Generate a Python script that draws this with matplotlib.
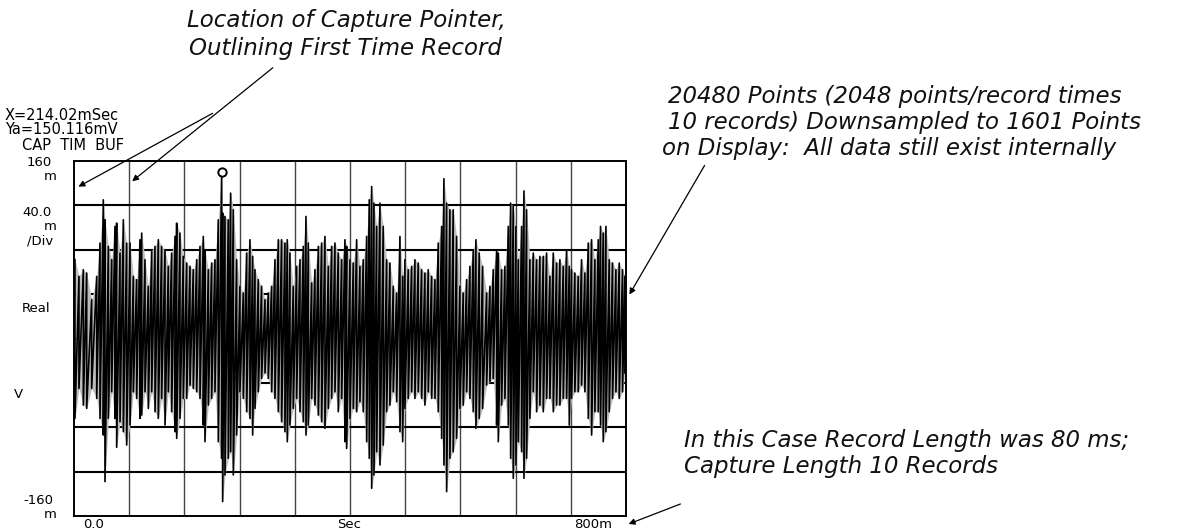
import numpy as np
import matplotlib.pyplot as plt
from matplotlib.patches import FancyArrowPatch

# capture buffer envelope: time (ms), upper / lower extreme (mV)
t_ms = [1.4, 7.2, 13.5, 18.4, 25.6, 32.9, 37.7, 42.5, 44.9, 49.8, 54.6, 59.4, 61.8, 66.7,
        71.5, 76.3, 81.2, 86.0, 90.8, 95.6, 98.1, 102.9, 107.7, 112.6, 117.4, 122.2, 127.0,
        131.9, 136.7, 141.5, 146.4, 148.8, 153.6, 158.4, 163.3, 168.1, 172.9, 177.8, 182.6,
        187.4, 189.8, 194.7, 199.5, 204.3, 209.1, 214.0, 215.4, 218.8, 223.6, 227.0, 230.9,
        235.7, 240.5, 245.4, 250.2, 255.0, 258.9, 262.3, 267.1, 271.9, 276.8, 281.6, 286.4,
        291.2, 296.1, 300.9, 305.7, 309.1, 313.0, 317.8, 322.6, 327.5, 332.3, 336.2, 339.6,
        344.4, 349.2, 354.1, 358.9, 363.7, 368.6, 373.4, 378.2, 383.0, 387.9, 392.7, 395.1,
        400.0, 404.8, 409.6, 414.4, 419.2, 424.1, 427.9, 431.4, 434.7, 438.6, 443.4, 448.2,
        453.1, 457.9, 462.7, 467.6, 472.4, 476.3, 479.6, 484.4, 489.3, 494.1, 498.9, 503.8,
        508.6, 513.4, 518.3, 523.1, 527.9, 532.8, 536.1, 540.0, 544.8, 549.6, 554.5, 559.3,
        564.1, 569.0, 573.8, 578.6, 582.5, 587.3, 592.2, 598.0, 602.8, 607.6, 612.5, 614.9,
        619.7, 624.5, 629.4, 632.8, 636.6, 640.5, 643.9, 648.7, 652.1, 655.9, 660.7, 665.6,
        670.4, 675.2, 680.1, 684.9, 689.7, 694.6, 699.4, 704.2, 709.1, 713.9, 717.8, 721.1,
        725.9, 730.8, 735.6, 740.4, 745.3, 750.1, 754.9, 759.8, 763.1, 767.0, 770.9, 775.7,
        780.5, 785.4, 790.2, 795.0, 798.4]
top_mv = [71, 56, 62, 59, 35, 56, 86, 125, 107, 83, 71, 101, 104, 77,
          107, 86, 86, 56, 53, 89, 95, 71, 47, 80, 83, 89, 83,
          80, 65, 77, 92, 104, 95, 74, 68, 65, 62, 71, 83,
          92, 80, 62, 68, 71, 107, 150.1, 113, 110, 107, 131, 116,
          71, 47, 41, 77, 89, 74, 62, 53, 47, 35, 41, 47,
          71, 89, 89, 86, 89, 77, 47, 65, 71, 83, 110, 86,
          50, 62, 83, 86, 92, 65, 83, 86, 77, 71, 89, 83,
          71, 68, 89, 65, 71, 92, 125, 137, 122, 101, 122, 101,
          71, 68, 47, 41, 92, 56, 71, 62, 65, 71, 68, 62,
          59, 62, 56, 53, 86, 101, 144, 122, 116, 116, 92, 47,
          41, 53, 65, 80, 89, 77, 65, 41, 47, 62, 80, 77,
          62, 65, 101, 122, 119, 101, 71, 101, 133, 116, 71, 77,
          71, 74, 74, 77, 56, 77, 68, 71, 65, 80, 65, 62,
          59, 56, 71, 59, 86, 89, 71, 89, 101, 95, 101, 71,
          68, 62, 68, 62, 56]
bot_mv = [-72, -45, -60, -63, -45, -54, -72, -87, -129, -72, -48, -72, -98, -75,
          -84, -96, -78, -48, -54, -72, -69, -48, -63, -48, -66, -72, -54,
          -78, -48, -66, -84, -90, -72, -54, -54, -42, -45, -48, -54,
          -78, -93, -60, -54, -48, -93, -108, -147, -123, -108, -102, -123,
          -87, -48, -54, -66, -72, -87, -63, -48, -36, -31, -36, -48,
          -54, -66, -75, -84, -93, -78, -63, -54, -66, -75, -87, -78,
          -54, -60, -69, -75, -81, -63, -54, -48, -66, -54, -93, -99,
          -72, -63, -66, -57, -66, -93, -108, -135, -123, -102, -114, -96,
          -66, -60, -48, -57, -84, -93, -63, -54, -48, -54, -48, -54,
          -60, -48, -54, -54, -66, -90, -114, -138, -108, -102, -90, -63,
          -60, -48, -54, -66, -81, -72, -63, -42, -39, -36, -78, -93,
          -60, -54, -78, -108, -126, -114, -93, -102, -126, -108, -72, -48,
          -66, -60, -66, -54, -54, -66, -60, -60, -54, -54, -78, -54,
          -48, -48, -42, -48, -72, -87, -66, -66, -78, -93, -84, -66,
          -54, -48, -54, -48, -31]

cursor_x = 214.02
cursor_y = 150.116

W, H = 1194, 531
fig = plt.figure(figsize=(W / 100, H / 100), dpi=100)
fig.patch.set_facecolor('white')

ax = fig.add_axes([74 / W, 1 - 516 / H, 552 / W, 355 / H])
ax.set_xlim(0, 800)
ax.set_ylim(-160, 160)
ax.set_xticks([])
ax.set_yticks([])
for s in ax.spines.values():
    s.set_linewidth(1.4)
    s.set_color('black')

# screen graticule
for gx in np.arange(80, 800, 80):
    ax.axvline(gx, color='#444444', lw=1.0, zorder=1)
for gy in np.arange(-120, 160, 40):
    ax.axhline(gy, color='black', lw=1.5, zorder=1)

# trace: each screen column goes from its upper to its lower extreme
ax.fill_between(t_ms, bot_mv, top_mv, color='#bdbdbd', lw=0, zorder=2)
xs = np.repeat(np.array(t_ms), 2)
ys = np.column_stack([top_mv, bot_mv]).ravel()
ax.plot(xs, ys, color='black', lw=1.2, zorder=3)
ax.plot([cursor_x], [cursor_y], marker='o', ms=6, mfc='white', mec='black',
        mew=1.4, zorder=4)


def px(x, y):
    return x / W, 1 - y / H


lab = dict(family='DejaVu Sans', fontsize=10.5, color='black')
fig.text(*px(5, 115), 'X=214.02mSec', va='center', ha='left', **lab)
fig.text(*px(5, 130), 'Ya=150.116mV', va='center', ha='left', **lab)
fig.text(*px(22, 145), 'CAP  TIM  BUF', va='center', ha='left', **lab)

tick = dict(family='DejaVu Sans', fontsize=9.5, color='black')
fig.text(*px(52, 162), '160', va='center', ha='right', **tick)
fig.text(*px(57, 177), 'm', va='center', ha='right', **tick)
fig.text(*px(52, 212), '40.0', va='center', ha='right', **tick)
fig.text(*px(57, 226), 'm', va='center', ha='right', **tick)
fig.text(*px(53, 241), '/Div', va='center', ha='right', **tick)
fig.text(*px(22, 308), 'Real', va='center', ha='left', **tick)
fig.text(*px(14, 394), 'V', va='center', ha='left', **tick)
fig.text(*px(53, 500), '-160', va='center', ha='right', **tick)
fig.text(*px(57, 515), 'm', va='center', ha='right', **tick)
fig.text(*px(83, 524), '0.0', va='center', ha='left', **tick)
fig.text(*px(349, 524), 'Sec', va='center', ha='center', **tick)
fig.text(*px(612, 524), '800m', va='center', ha='right', **tick)

note = dict(family='DejaVu Sans', style='oblique', fontsize=16.5, color='#111111')
fig.text(*px(187, 21), 'Location of Capture Pointer,', va='center', ha='left', **note)
fig.text(*px(189, 48), 'Outlining First Time Record', va='center', ha='left', **note)
fig.text(*px(668, 96), '20480 Points (2048 points/record times', va='center', ha='left', **note)
fig.text(*px(668, 122), '10 records) Downsampled to 1601 Points', va='center', ha='left', **note)
fig.text(*px(662, 148), 'on Display:  All data still exist internally', va='center', ha='left', **note)
fig.text(*px(684, 441), 'In this Case Record Length was 80 ms;', va='center', ha='left', **note)
fig.text(*px(684, 467), 'Capture Length 10 Records', va='center', ha='left', **note)

arrow = dict(arrowstyle='-|>', color='black', lw=0.9, mutation_scale=9)
pointers = [((275, 66), (130, 183)),
            ((215, 112), (76, 188)),
            ((706, 163), (628, 297)),
            ((683, 503), (626, 525))]
for (x0, y0), (x1, y1) in pointers:
    fig.add_artist(FancyArrowPatch(px(x0, y0), px(x1, y1),
                                   transform=fig.transFigure, **arrow))

fig.savefig('out.png', dpi=100, facecolor='white')
